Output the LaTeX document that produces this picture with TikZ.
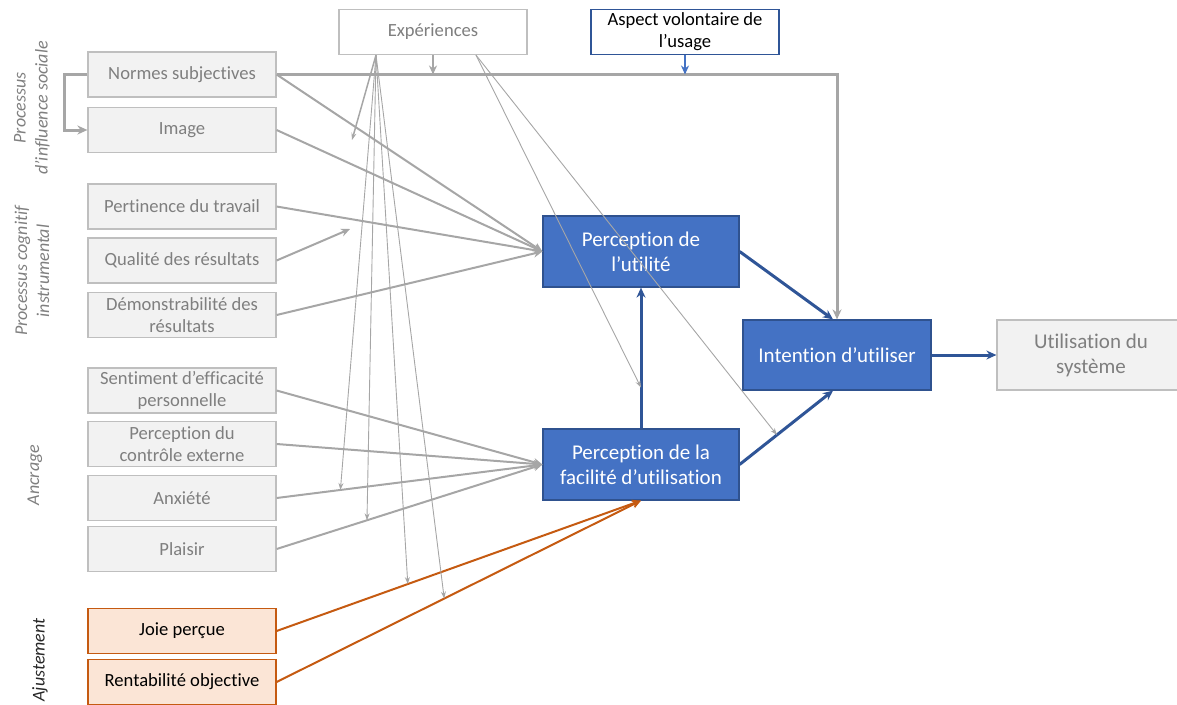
\documentclass[tikz,border=0pt]{standalone}
\usepackage{fontspec}
\setmainfont{Carlito}[Ligatures=NoCommon]
\usepackage{tikz}
\usetikzlibrary{arrows.meta, positioning}
\definecolor{boxfill}{HTML}{F2F2F2}
\definecolor{boxline}{HTML}{BFBFBF}
\definecolor{txtgray}{HTML}{7F7F7F}
\definecolor{linegray}{HTML}{A6A6A6}
\definecolor{bluefill}{HTML}{4472C4}
\definecolor{blueline}{HTML}{2F528F}
\definecolor{arrowblue}{HTML}{2F5597}
\definecolor{orgline}{HTML}{C55A11}
\definecolor{orgfill}{HTML}{FBE5D6}
\definecolor{darktxt}{HTML}{262626}

\begin{document}
\begin{tikzpicture}[x=1pt, y=-1pt, >=Stealth,
    lbox/.style={rectangle, draw=boxline, fill=boxfill, text=txtgray, line width=1.2pt, minimum width=188pt, minimum height=45pt, align=center, inner sep=1pt, font=\fontsize{18.6}{22}\selectfont},
    obox/.style={lbox, draw=orgline, fill=orgfill, text=black},
    tbox/.style={lbox, fill=white},
    bbox/.style={rectangle, draw=blueline, fill=bluefill, text=white, line width=1.2pt, minimum width=196pt, minimum height=71pt, align=center, font=\fontsize{21}{25}\selectfont},
    grp/.style={rotate=90, align=center, text=txtgray, font=\itshape\fontsize{18}{22}\selectfont},
    fb/.style={-{Stealth[length=10pt, width=9pt]}, draw=linegray, line width=3pt},
    garrow/.style={-{Stealth[length=9pt, width=8pt]}, draw=linegray, line width=2pt},
    xarrow/.style={-{Stealth[length=7pt, width=5pt]}, draw=linegray, line width=0.9pt},
    barrow/.style={-{Stealth[length=10pt, width=9pt]}, draw=arrowblue, line width=3pt},
    aarrow/.style={-{Stealth[length=9pt, width=8pt]}, draw=bluefill, line width=2.5pt},
    oarrow/.style={-{Stealth[length=9pt, width=8pt]}, draw=orgline, line width=2pt}]
  \useasboundingbox (0,0) rectangle (1177,704);

  \node[grp] (social) at (32,108) {Processus\\d’influence sociale};
  \node[grp] (cognitif) at (32,271) {Processus cognitif\\instrumental};
  \node[grp] (ancrage) at (35,475) {Ancrage};
  \node[grp, text=darktxt] (ajust) at (40,660) {Ajustement};

  \node[lbox] (normes) at (182,74.5) {Normes subjectives};
  \node[lbox] (image) at (182,130) {Image};
  \node[lbox] (pert) at (182,206.5) {Pertinence du travail};
  \node[lbox] (qual) at (182,260.5) {Qualité des résultats};
  \node[lbox] (demo) at (182,315) {Démonstrabilité des\\résultats};
  \node[lbox] (sent) at (182,390.5) {Sentiment d’efficacité\\personnelle};
  \node[lbox] (ctrl) at (182,444) {Perception du\\contrôle externe};
  \node[lbox] (anx) at (182,498) {Anxiété};
  \node[lbox] (plai) at (182,549) {Plaisir};
  \node[obox] (joie) at (182,631) {Joie perçue};
  \node[obox] (rent) at (182,682) {Rentabilité objective};

  \node[tbox] (exp) at (433,32) {Expériences};
  \node[tbox, draw=arrowblue, text=black] (asp) at (685,32) {Aspect volontaire de\\l’usage};

  \node[bbox] (pu) at (641,251.5) {Perception de\\l’utilité};
  \node[bbox] (peou) at (641,464.5) {Perception de la\\facilité d’utilisation};
  \node[bbox, minimum width=188pt, minimum height=70pt] (int) at (837,355) {Intention d’utiliser};
  \node[lbox, minimum height=70pt, font=\fontsize{21}{25}\selectfont] (use) at (1091,355) {Utilisation du\\système};

  \draw[fb] (normes.east) -- (normes.east -| int.north) -- (int.north);
  \draw[fb] (normes.west) -- ++(-23,0) |- (image.west);
  \draw[garrow, line width=2.5pt] (exp.south) -- (exp.south |- normes.east);
  \draw[aarrow] (asp.south) -- (asp.south |- normes.east);

  \coordinate (m1) at (352,140);
  \coordinate (m2) at (350,229);
  \foreach \n in {normes, image, pert, demo}
    \draw[garrow] (\n.east) -- (pu.west);
  \draw[garrow] (qual.east) -- (m2);
  \foreach \n in {sent, ctrl}
    \draw[garrow] (\n.east) -- (peou.west);
  \draw[garrow] (anx.east) -- coordinate[pos=0.24] (m3) (peou.west);
  \draw[garrow] (plai.east) -- coordinate[pos=0.34] (m4) (peou.west);
  \draw[oarrow] (joie.east) -- coordinate[pos=0.36] (m5) (peou.south);
  \draw[oarrow] (rent.east) -- coordinate[pos=0.46] (m6) (peou.south);

  \draw[barrow] (peou.north) -- coordinate[pos=0.29] (m7) (pu.south);
  \draw[barrow] (pu.east) -- ([xshift=-4pt]int.north);
  \draw[barrow] (peou.east) -- coordinate[pos=0.4] (m8) ([xshift=-4pt]int.south);
  \draw[barrow] (int.east) -- (use.west);

  \coordinate (e1) at ([xshift=-57pt]exp.south);
  \coordinate (e2) at ([xshift=43pt]exp.south);
  \draw[xarrow, line width=1.5pt] (e1) -- (m1);
  \foreach \m in {m3, m4, m5, m6}
    \draw[xarrow] (e1) -- (\m);
  \foreach \m in {m7, m8}
    \draw[xarrow] (e2) -- (\m);
\end{tikzpicture}
\end{document}
